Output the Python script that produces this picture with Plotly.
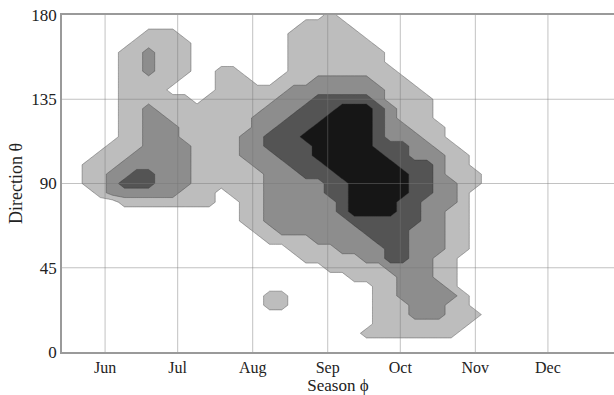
import plotly.graph_objects as go

# Sample grid: season in day-of-year, direction in degrees
days = [135 + 5 * i for i in range(37)]          # 135 .. 315
directions = [5 * j for j in range(37)]          # 0 .. 180

# Density class per grid cell (0 = none, 4 = highest), rows from 180 deg down to 0 deg.
# Columns are grouped 10 | 10 | 10 | 7 for readability.
density_rows = [
    "0000000000|0000000000|0010000000|0000000",  # 180
    "0000000000|0000000000|1111000000|0000000",  # 175
    "0000000111|0000000001|1111100000|0000000",  # 170
    "0000001111|1000000001|1111110000|0000000",  # 165
    "0000011211|1000000001|1111111000|0000000",  # 160
    "0000011211|1000000001|1111111000|0000000",  # 155
    "0000011211|1001100001|1111111100|0000000",  # 150
    "0000011111|0001110011|1222221110|0000000",  # 145
    "0000011110|0001111112|2222222111|0000000",  # 140
    "0000011111|1011111122|2333332111|1000000",  # 135
    "0000011211|1111111222|3334443211|1000000",  # 130
    "0000011221|1111112223|3344443211|1000000",  # 125
    "0000011222|1111112233|3444443221|1100000",  # 120
    "0000011222|1111122333|4444443222|1100000",  # 115
    "0000111222|2111122333|3444443332|2110000",  # 110
    "0001112222|2111122233|3444444332|2211000",  # 105
    "0011122222|2111112223|3344444433|3211000",  # 100
    "0011223322|2111111222|3334444443|3211100",  # 95
    "0011233322|2111111222|2233444443|3221100",  # 90
    "0001222222|1110111222|2233444443|3221000",  # 85
    "0000011111|1110011222|2223444433|2221000",  # 80
    "0000000000|0000011222|2223444433|2211000",  # 75
    "0000000000|0000011222|2222333333|2211000",  # 70
    "0000000000|0000001122|2222233332|2211000",  # 65
    "0000000000|0000000111|1222223332|2211000",  # 60
    "0000000000|0000000001|1112222332|2211000",  # 55
    "0000000000|0000000000|1111122332|2110000",  # 50
    "0000000000|0000000000|0011111222|2110000",  # 45
    "0000000000|0000000000|0000111122|2110000",  # 40
    "0000000000|0000000000|0000001122|2210000",  # 35
    "0000000000|0000000110|0000001122|2221000",  # 30
    "0000000000|0000000110|0000001112|2211000",  # 25
    "0000000000|0000000000|0000001112|2211100",  # 20
    "0000000000|0000000000|0000001111|1111000",  # 15
    "0000000000|0000000000|0000011111|1110000",  # 10
    "0000000000|0000000000|0000000000|0000000",  # 5
    "0000000000|0000000000|0000000000|0000000",  # 0
]

month_days = [152, 182, 213, 244, 274, 305, 335]
month_labels = ["Jun", "Jul", "Aug", "Sep", "Oct", "Nov", "Dec"]
direction_ticks = [0, 45, 90, 135, 180]

z = [[int(c) for c in row.replace("|", "")] for row in reversed(density_rows)]
for row in z:
    assert len(row) == len(days), len(row)
assert len(z) == len(directions)

white, c1, c2, c3, c4 = "#ffffff", "#bdbdbd", "#8d8d8d", "#545454", "#161616"
colorscale = [
    [0.0, white], [0.125, white],
    [0.125, c1], [0.375, c1],
    [0.375, c2], [0.625, c2],
    [0.625, c3], [0.875, c3],
    [0.875, c4], [1.0, c4],
]

serif = "Liberation Serif"
ink = "#222222"

fig = go.Figure(
    go.Contour(
        x=days,
        y=directions,
        z=z,
        autocontour=False,
        contours=dict(start=0.5, end=3.5, size=1, coloring="fill"),
        colorscale=colorscale,
        showscale=False,
        line=dict(color="rgba(50,50,50,0.55)", width=0.7, smoothing=0),
        hoverinfo="skip",
    )
)

# Grid lines drawn over the filled bands
grid_line = dict(color="rgba(120,120,120,0.45)", width=1)
shapes = []
for d in month_days:
    shapes.append(dict(type="line", xref="x", yref="paper", x0=d, x1=d, y0=0, y1=1,
                       layer="above", line=grid_line))
for t in direction_ticks[1:-1]:
    shapes.append(dict(type="line", xref="paper", yref="y", x0=0, x1=1, y0=t, y1=t,
                       layer="above", line=grid_line))

fig.update_layout(
    width=614,
    height=395,
    margin=dict(l=62, r=0, t=15, b=43),
    paper_bgcolor="white",
    plot_bgcolor="white",
    shapes=shapes,
    font=dict(family=serif, size=16, color=ink),
    xaxis=dict(
        range=[134.2, 362.3],
        tickvals=month_days,
        ticktext=month_labels,
        showgrid=False,
        zeroline=False,
        showline=True,
        linecolor="#9a9a9a",
        linewidth=1.5,
        mirror=True,
        ticks="",
        layer="above traces",
        tickfont=dict(family=serif, size=16, color=ink),
        title=dict(text="Season ϕ", standoff=3,
                   font=dict(family=serif, size=17, color=ink)),
    ),
    yaxis=dict(
        range=[0, 180],
        tickvals=direction_ticks,
        showgrid=False,
        zeroline=False,
        showline=True,
        linecolor="#9a9a9a",
        linewidth=1.5,
        mirror=False,
        ticks="",
        layer="above traces",
        tickfont=dict(family=serif, size=17, color=ink),
        title=dict(text="Direction θ", standoff=4,
                   font=dict(family=serif, size=18, color=ink)),
    ),
)

fig.write_html("out.html")
